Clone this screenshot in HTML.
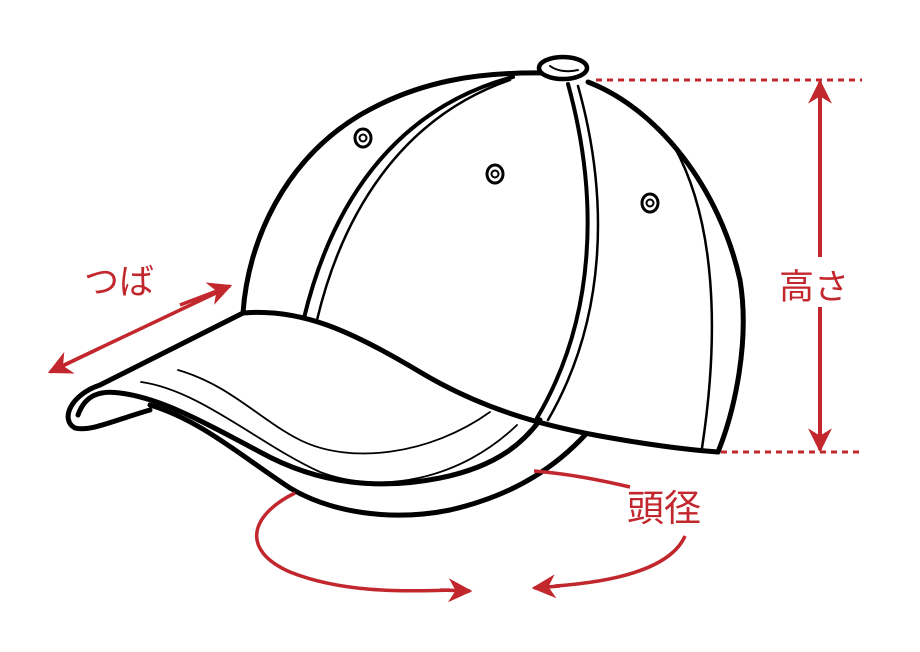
<!DOCTYPE html>
<html><head><meta charset="utf-8"><style>
html,body{margin:0;padding:0;background:#fff;}
svg{display:block;}
text{font-family:"Liberation Sans","Noto Sans CJK JP",sans-serif;fill:#c1272d;}
</style></head><body>
<svg width="920" height="652" viewBox="0 0 920 652" xmlns="http://www.w3.org/2000/svg">
<defs>
<marker id="ah" viewBox="0 0 10 10" refX="9" refY="5" markerUnits="userSpaceOnUse" markerWidth="28" markerHeight="24" orient="auto-start-reverse">
<path d="M0,0 L10,5 L0,10 L3,5 Z" fill="#c1272d"/></marker>
</defs>
<g fill="none" stroke="#000" stroke-linejoin="round" stroke-linecap="round">
<path d="M243,313 C248,240 285,160 360,115 C420,80 480,72 545,73 M588,82 C660,110 720,190 740,280 C750,340 735,410 718,452" stroke-width="5"/>
<path d="M674,146 C715,220 720,330 702,448" stroke-width="2.5"/>
<ellipse cx="563" cy="68" rx="24" ry="11" fill="#fff" stroke-width="4.5"/>
<path d="M550,66 C558,72 570,72 578,70" stroke-width="2"/>
<path d="M304,318 C330,210 390,110 513,77" stroke-width="4"/>
<path d="M317,320 C342,215 400,118 510,80" stroke-width="2.5"/>
<path d="M568,84 C600,200 595,320 537,418" stroke-width="4"/>
<path d="M578,86 C610,200 606,320 548,420" stroke-width="2.5"/>
<ellipse cx="363" cy="138" rx="8" ry="9" stroke-width="3"/><circle cx="363" cy="138" r="3.5" stroke-width="2"/>
<ellipse cx="495" cy="174" rx="8" ry="9" stroke-width="3"/><circle cx="495" cy="174" r="3.5" stroke-width="2"/>
<ellipse cx="650" cy="203" rx="8" ry="9" stroke-width="3"/><circle cx="650" cy="203" r="3.5" stroke-width="2"/>
<path d="M243,313 C300,308 350,330 420,372 C480,408 540,425 600,436 C650,445 690,450 718,452" stroke-width="5"/>
<path d="M243,313 L100,385 C70,395 60,420 75,428 C90,432 115,420 150,410" fill="#fff" stroke-width="5"/>
<path d="M78,415 C85,395 100,390 120,393 C160,398 200,420 260,452 C320,485 380,490 440,478 C500,466 525,440 540,420" stroke-width="5"/>
<path d="M150,405 C200,420 240,455 290,488 C330,512 390,522 450,510 C520,494 560,462 586,434" stroke-width="5"/>
<path d="M178,370 C230,385 260,420 300,440 C350,465 430,455 490,412" stroke-width="1.8"/>
<path d="M141,382 C200,390 260,445 320,472 C380,495 460,480 517,425" stroke-width="1.8"/>
</g>
<g stroke="#c1272d" fill="none">
<path d="M596,80 H862" stroke-width="3" stroke-dasharray="6,5"/>
<path d="M721,452 H862" stroke-width="3" stroke-dasharray="6,5"/>
<path d="M820,100 V257 M820,307 V435" stroke-width="4"/>
<path d="M820,140 V82" stroke-width="4" marker-end="url(#ah)"/>
<path d="M820,400 V450" stroke-width="4" marker-end="url(#ah)"/>
<path d="M62,366 L218,292" stroke-width="3.5"/>
<path d="M100,348 L50,372" stroke-width="3.5" marker-end="url(#ah)"/>
<path d="M180,305 L230,286" stroke-width="3.5" marker-end="url(#ah)"/>
<path d="M534,471 C570,474 600,480 630,487" stroke-width="3.5"/>
<path d="M295,493 C250,515 240,550 290,572 C340,592 400,592 450,590" stroke-width="3.5"/>
<path d="M440,590 L470,591" stroke-width="3.5" marker-end="url(#ah)"/>
<path d="M685,536 C670,570 610,582 555,586" stroke-width="3.5"/>
<path d="M560,586 L534,588" stroke-width="3.5" marker-end="url(#ah)"/>
</g>
<text x="779" y="299" font-size="35">高さ</text>
<text x="84" y="294" font-size="35">つば</text>
<text x="627" y="521" font-size="37">頭径</text>
</svg>
</body></html>
